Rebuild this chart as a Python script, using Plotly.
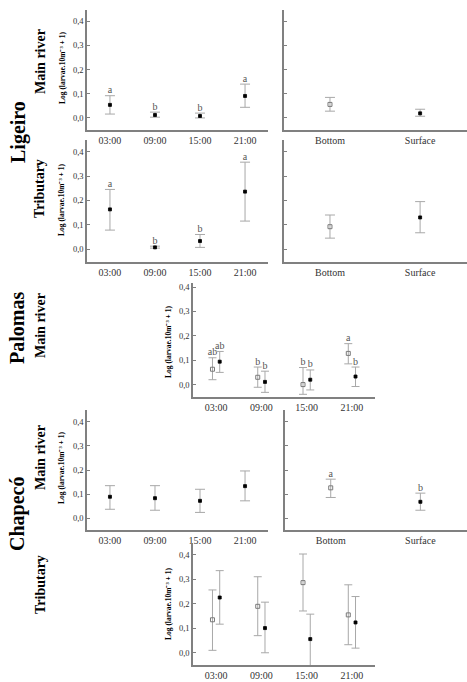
import plotly.graph_objects as go

W, H = 467, 682
FONT = "Liberation Serif"

times = ["03:00", "09:00", "15:00", "21:00"]
depths = ["Bottom", "Surface"]
ytick_vals = [0.0, 0.1, 0.2, 0.3, 0.4]
ytick_text = ["0,0", "0,1", "0,2", "0,3", "0,4"]

# Ligeiro - main river
lig_main_time_mean = [0.054, 0.012, 0.008, 0.091]
lig_main_time_low = [0.016, 0.003, 0.0, 0.044]
lig_main_time_high = [0.092, 0.024, 0.02, 0.140]
lig_main_time_letters = ["a", "b", "b", "a"]
lig_main_depth_mean = [0.056, 0.019]
lig_main_depth_low = [0.028, 0.007]
lig_main_depth_high = [0.085, 0.036]

# Ligeiro - tributary
lig_trib_time_mean = [0.163, 0.007, 0.033, 0.236]
lig_trib_time_low = [0.078, 0.004, 0.007, 0.115]
lig_trib_time_high = [0.245, 0.012, 0.060, 0.357]
lig_trib_time_letters = ["a", "b", "b", "a"]
lig_trib_depth_mean = [0.092, 0.130]
lig_trib_depth_low = [0.045, 0.067]
lig_trib_depth_high = [0.140, 0.195]

# Palomas - main river (bottom = open, surface = filled)
pal_bottom_mean = [0.063, 0.030, 0.000, 0.128]
pal_bottom_low = [0.020, -0.011, -0.040, 0.085]
pal_bottom_high = [0.110, 0.072, 0.070, 0.168]
pal_bottom_letters = ["ab", "b", "b", "a"]
pal_surface_mean = [0.094, 0.011, 0.020, 0.033]
pal_surface_low = [0.050, -0.032, -0.022, -0.008]
pal_surface_high = [0.136, 0.055, 0.060, 0.072]
pal_surface_letters = ["ab", "b", "b", "b"]

# Chapecó - main river
cha_main_time_mean = [0.089, 0.083, 0.072, 0.133]
cha_main_time_low = [0.037, 0.033, 0.024, 0.072]
cha_main_time_high = [0.135, 0.135, 0.120, 0.196]
cha_main_depth_mean = [0.126, 0.068]
cha_main_depth_low = [0.086, 0.033]
cha_main_depth_high = [0.162, 0.104]
cha_main_depth_letters = ["a", "b"]

# Chapecó - tributary
cha_trib_bottom_mean = [0.135, 0.190, 0.287, 0.155]
cha_trib_bottom_low = [0.010, 0.070, 0.171, 0.033]
cha_trib_bottom_high = [0.257, 0.311, 0.404, 0.278]
cha_trib_surface_mean = [0.226, 0.101, 0.056, 0.124]
cha_trib_surface_low = [0.117, 0.000, -0.070, 0.019]
cha_trib_surface_high = [0.336, 0.207, 0.158, 0.230]

AXIS_COLOR = "#808080"
ERR_COLOR = "#a8a8a8"
LETTER_COLOR = "#555555"
TICK_COLOR = "#333333"

fig = go.Figure()
axes_layout = {}


def dom_x(x0, x1):
    return [x0 / W, x1 / W]


def dom_y(y0, y1):
    return [1 - y1 / H, 1 - y0 / H]


def add_axes(n, xpx, ypx, xrange, yrange, xlabels, show_ylabels):
    xa = "xaxis" if n == 1 else f"xaxis{n}"
    ya = "yaxis" if n == 1 else f"yaxis{n}"
    axes_layout[xa] = dict(
        domain=dom_x(*xpx), anchor=f"y{n}", range=xrange,
        tickmode="array",
        tickvals=list(range(len(xlabels))), ticktext=xlabels,
        showline=True, linecolor=AXIS_COLOR, linewidth=1.5,
        showgrid=False, zeroline=False, ticks="", ticklen=0,
        tickfont=dict(family=FONT, size=10, color=TICK_COLOR),
    )
    axes_layout[ya] = dict(
        domain=dom_y(*ypx), anchor=f"x{n}", range=yrange,
        tickmode="array",
        tickvals=ytick_vals, ticktext=ytick_text,
        showline=True, linecolor=AXIS_COLOR, linewidth=1.5,
        showgrid=False, zeroline=False, ticks="inside", ticklen=3,
        tickcolor=AXIS_COLOR, showticklabels=show_ylabels,
        tickfont=dict(family=FONT, size=8.5, color=TICK_COLOR),
    )


def add_series(n, xs, mean, low, high, filled, cap, letters=None):
    suffix = "" if n == 1 else str(n)
    plus = [h - m for h, m in zip(high, mean)]
    minus = [m - l for m, l in zip(mean, low)]
    fig.add_trace(go.Scatter(
        x=xs, y=mean, mode="markers", xaxis=f"x{suffix}", yaxis=f"y{suffix}",
        error_y=dict(type="data", symmetric=False, array=plus, arrayminus=minus,
                     color=ERR_COLOR, thickness=1, width=cap),
        marker=dict(symbol="square" if filled else "square-open",
                    size=3 if filled else 4,
                    color="black" if filled else "#7a7a7a",
                    line=dict(width=0.8 if filled else 1,
                              color="black" if filled else "#7a7a7a")),
        showlegend=False, cliponaxis=False, hoverinfo="skip",
    ))
    if letters:
        fig.add_trace(go.Scatter(
            x=xs, y=high, mode="text", text=letters, textposition="top center",
            xaxis=f"x{suffix}", yaxis=f"y{suffix}",
            textfont=dict(family=FONT, size=10, color=LETTER_COLOR),
            showlegend=False, cliponaxis=False, hoverinfo="skip",
        ))


TX = [-0.51, 3.51]
DX = [-0.51, 1.52]
idx_t = list(range(len(times)))
idx_d = list(range(len(depths)))
off = 0.08
xb = [i - off for i in idx_t]
xs = [i + off for i in idx_t]

# Panel 1: Ligeiro main - time / depth
add_axes(1, (87, 268), (10, 130), TX, [-0.05, 0.447], times, True)
add_series(1, idx_t, lig_main_time_mean, lig_main_time_low, lig_main_time_high, True, 5, lig_main_time_letters)
add_axes(2, (284, 467), (10, 130), DX, [-0.05, 0.447], depths, False)
add_series(2, [0], lig_main_depth_mean[:1], lig_main_depth_low[:1], lig_main_depth_high[:1], False, 5)
add_series(2, [1], lig_main_depth_mean[1:], lig_main_depth_low[1:], lig_main_depth_high[1:], True, 5)

# Panel 2: Ligeiro tributary
add_axes(3, (87, 268), (140, 262), TX, [-0.053, 0.448], times, True)
add_series(3, idx_t, lig_trib_time_mean, lig_trib_time_low, lig_trib_time_high, True, 5, lig_trib_time_letters)
add_axes(4, (284, 467), (140, 262), DX, [-0.053, 0.448], depths, False)
add_series(4, [0], lig_trib_depth_mean[:1], lig_trib_depth_low[:1], lig_trib_depth_high[:1], False, 5)
add_series(4, [1], lig_trib_depth_mean[1:], lig_trib_depth_low[1:], lig_trib_depth_high[1:], True, 5)

# Panel 3: Palomas main river
add_axes(5, (193, 375), (283, 397), TX, [-0.051, 0.417], times, True)
add_series(5, xb, pal_bottom_mean, pal_bottom_low, pal_bottom_high, False, 4, pal_bottom_letters)
add_series(5, xs, pal_surface_mean, pal_surface_low, pal_surface_high, True, 4, pal_surface_letters)

# Panel 4: Chapecó main river
add_axes(6, (87, 268), (410, 530), TX, [-0.049, 0.449], times, True)
add_series(6, idx_t, cha_main_time_mean, cha_main_time_low, cha_main_time_high, True, 5)
add_axes(7, (285, 467), (410, 530), DX, [-0.049, 0.449], depths, False)
add_series(7, [0], cha_main_depth_mean[:1], cha_main_depth_low[:1], cha_main_depth_high[:1], False, 5, cha_main_depth_letters[:1])
add_series(7, [1], cha_main_depth_mean[1:], cha_main_depth_low[1:], cha_main_depth_high[1:], True, 5, cha_main_depth_letters[1:])

# Panel 5: Chapecó tributary
add_axes(8, (193, 375), (543, 665), TX, [-0.05, 0.449], times, True)
add_series(8, xb, cha_trib_bottom_mean, cha_trib_bottom_low, cha_trib_bottom_high, False, 4)
add_series(8, xs, cha_trib_surface_mean, cha_trib_surface_low, cha_trib_surface_high, True, 4)

YT = "Log (larvae.10m\u207b\u00b3 + 1)"


def label(text, x, y, size, bold=True):
    fig.add_annotation(
        text=f"<b>{text}</b>" if bold else text, x=x / W, y=1 - y / H,
        xref="paper", yref="paper", showarrow=False, textangle=-90,
        xanchor="center", yanchor="middle",
        font=dict(family=FONT, size=size, color="black"),
    )


label("Ligeiro", 18, 132, 20)
label("Palomas", 17, 328, 20)
label("Chapecó", 17, 514, 20)
label("Main river", 40, 62, 14)
label("Tributary", 40, 189, 14)
label("Main river", 40, 326, 14)
label("Main river", 40, 458, 14)
label("Tributary", 40, 585, 14)

for (x, y) in [(62, 68), (62, 200), (168, 342), (62, 468), (168, 604)]:
    label(YT, x, y, 7.5)

fig.update_layout(
    width=W, height=H, margin=dict(l=0, r=0, t=0, b=0),
    paper_bgcolor="white", plot_bgcolor="white", showlegend=False,
    font=dict(family=FONT, color=TICK_COLOR),
    **axes_layout,
)

fig.write_html("out.html")
